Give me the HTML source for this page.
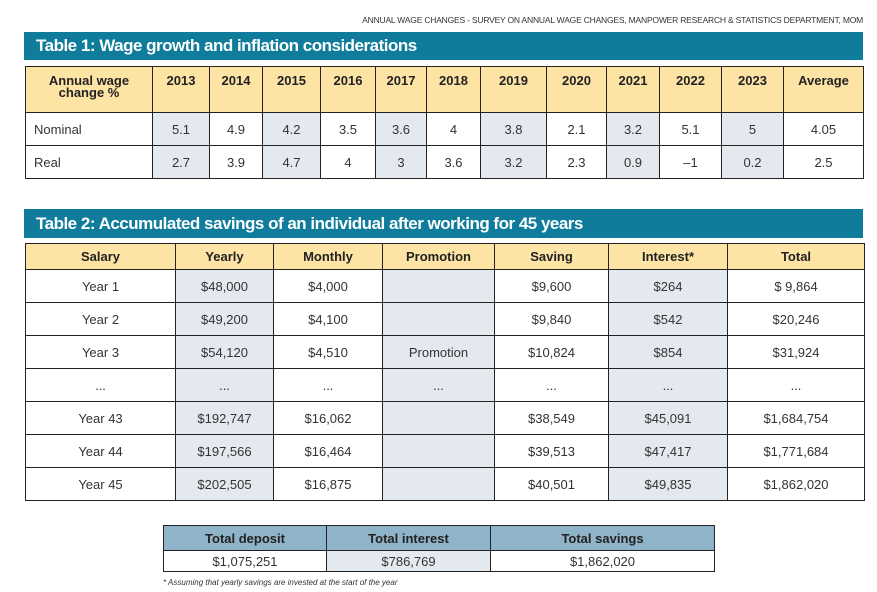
<!DOCTYPE html><html><head><style>
body{margin:0;width:877px;height:592px;background:#fff;position:relative;overflow:hidden;font-family:"Liberation Sans",sans-serif;color:#222}
.a{position:absolute}
.bar{position:absolute;left:24px;width:839px;background:#0f7c9b;color:#fff;font-weight:bold;font-size:17px;letter-spacing:-0.5px;padding-left:12px;box-sizing:border-box}
table{position:absolute;border-collapse:collapse;table-layout:fixed}
td{border:1.5px solid #222;text-align:center;font-size:13px;padding:0;color:#333}
.h td{background:#fde3a4;font-weight:bold;color:#222}
.s{background:#e3e9ef}
</style></head><body>
<div class="a" style="right:14px;top:15px;font-size:8.5px;color:#333;letter-spacing:-0.2px">ANNUAL WAGE CHANGES - SURVEY ON ANNUAL WAGE CHANGES, MANPOWER RESEARCH &amp; STATISTICS DEPARTMENT, MOM</div>
<div class="bar" style="top:32px;height:28px;line-height:28px">Table 1: Wage growth and inflation considerations</div>
<table style="left:25px;top:66px;width:838px">
<colgroup><col style="width:127px"><col style="width:57px"><col style="width:53px"><col style="width:58px"><col style="width:55px"><col style="width:51px"><col style="width:54px"><col style="width:66px"><col style="width:60px"><col style="width:53px"><col style="width:62px"><col style="width:62px"><col style="width:80px"></colgroup>
<tr class="h" style="height:46px"><td style="vertical-align:top;padding-top:8px;line-height:12px">Annual wage<br>change %</td><td style="vertical-align:top;padding-top:6px">2013</td><td style="vertical-align:top;padding-top:6px">2014</td><td style="vertical-align:top;padding-top:6px">2015</td><td style="vertical-align:top;padding-top:6px">2016</td><td style="vertical-align:top;padding-top:6px">2017</td><td style="vertical-align:top;padding-top:6px">2018</td><td style="vertical-align:top;padding-top:6px">2019</td><td style="vertical-align:top;padding-top:6px">2020</td><td style="vertical-align:top;padding-top:6px">2021</td><td style="vertical-align:top;padding-top:6px">2022</td><td style="vertical-align:top;padding-top:6px">2023</td><td style="vertical-align:top;padding-top:6px">Average</td></tr>
<tr style="height:33px"><td style="text-align:left;padding-left:8px">Nominal</td><td class="s">5.1</td><td>4.9</td><td class="s">4.2</td><td>3.5</td><td class="s">3.6</td><td>4</td><td class="s">3.8</td><td>2.1</td><td class="s">3.2</td><td>5.1</td><td class="s">5</td><td>4.05</td></tr>
<tr style="height:33px"><td style="text-align:left;padding-left:8px">Real</td><td class="s">2.7</td><td>3.9</td><td class="s">4.7</td><td>4</td><td class="s">3</td><td>3.6</td><td class="s">3.2</td><td>2.3</td><td class="s">0.9</td><td>–1</td><td class="s">0.2</td><td>2.5</td></tr>
</table>
<div class="bar" style="top:209px;height:29px;line-height:29px">Table 2: Accumulated savings of an individual after working for 45 years</div>
<table style="left:25px;top:243px;width:839px">
<colgroup><col style="width:150px"><col style="width:98px"><col style="width:109px"><col style="width:112px"><col style="width:114px"><col style="width:119px"><col style="width:137px"></colgroup>
<tr class="h" style="height:26px"><td>Salary</td><td>Yearly</td><td>Monthly</td><td>Promotion</td><td>Saving</td><td>Interest*</td><td>Total</td></tr>
<tr style="height:33px"><td>Year 1</td><td class="s">$48,000</td><td>$4,000</td><td class="s"></td><td>$9,600</td><td class="s">$264</td><td>$ 9,864</td></tr>
<tr style="height:33px"><td>Year 2</td><td class="s">$49,200</td><td>$4,100</td><td class="s"></td><td>$9,840</td><td class="s">$542</td><td>$20,246</td></tr>
<tr style="height:33px"><td>Year 3</td><td class="s">$54,120</td><td>$4,510</td><td class="s">Promotion</td><td>$10,824</td><td class="s">$854</td><td>$31,924</td></tr>
<tr style="height:33px;font-size:9px"><td>...</td><td class="s">...</td><td>...</td><td class="s">...</td><td>...</td><td class="s">...</td><td>...</td></tr>
<tr style="height:33px"><td>Year 43</td><td class="s">$192,747</td><td>$16,062</td><td class="s"></td><td>$38,549</td><td class="s">$45,091</td><td>$1,684,754</td></tr>
<tr style="height:33px"><td>Year 44</td><td class="s">$197,566</td><td>$16,464</td><td class="s"></td><td>$39,513</td><td class="s">$47,417</td><td>$1,771,684</td></tr>
<tr style="height:33px"><td>Year 45</td><td class="s">$202,505</td><td>$16,875</td><td class="s"></td><td>$40,501</td><td class="s">$49,835</td><td>$1,862,020</td></tr>
</table>
<table style="left:163px;top:525px;width:551px">
<colgroup><col style="width:163px"><col style="width:164px"><col style="width:224px"></colgroup>
<tr style="height:25px"><td style="background:#8fb3c8;font-weight:bold;color:#222">Total deposit</td><td style="background:#8fb3c8;font-weight:bold;color:#222">Total interest</td><td style="background:#8fb3c8;font-weight:bold;color:#222">Total savings</td></tr>
<tr style="height:21px"><td>$1,075,251</td><td class="s">$786,769</td><td>$1,862,020</td></tr>
</table>
<div class="a" style="left:163px;top:578px;font-size:8px;font-style:italic;color:#333">* Assuming that yearly savings are invested at the start of the year</div>
</body></html>
